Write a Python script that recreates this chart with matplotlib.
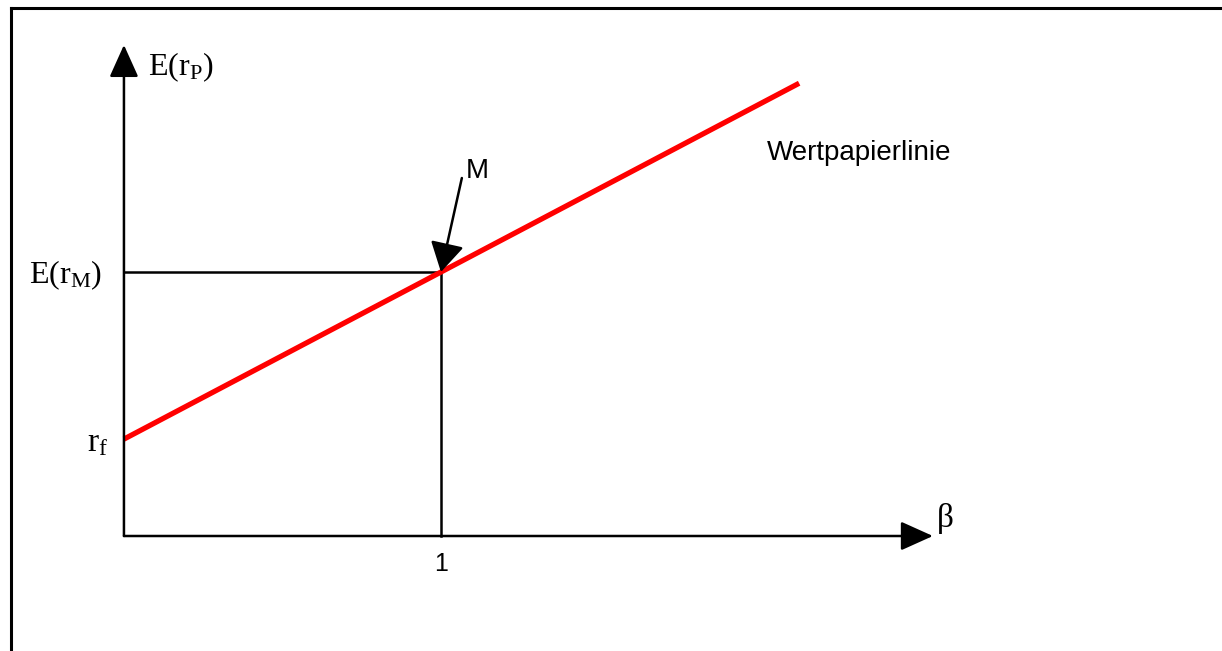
import matplotlib.pyplot as plt
from matplotlib.lines import Line2D

# security market line (beta, expected return)
sml_beta = [0.0, 2.13]
sml_return = [0.367, 1.715]

beta_m = 1.0
ret_m = 1.0
rf = 0.367

x_axis_end = 2.552
y_axis_end = 1.86

plt.rcParams['mathtext.fontset'] = 'custom'
plt.rcParams['mathtext.rm'] = 'Liberation Serif'
plt.rcParams['mathtext.it'] = 'Liberation Serif'

fig = plt.figure(figsize=(12.22, 6.51), dpi=100)
ax = fig.add_axes([0, 0, 1, 1])
ax.set_xlim(-0.391, 3.464)
ax.set_ylim(-0.4356, 2.0303)
ax.axis('off')

# frame around the drawing (cut off at right and bottom)
fig.add_artist(Line2D([11 / 1222, 11 / 1222], [0, 1 - 7.5 / 651],
                      transform=fig.transFigure, color='black', lw=2.2))
fig.add_artist(Line2D([11 / 1222, 1], [1 - 7.5 / 651, 1 - 7.5 / 651],
                      transform=fig.transFigure, color='black', lw=2.2))

# axes with arrows
axis_arrow = dict(arrowstyle='-|>,head_length=1.0,head_width=0.45',
                  mutation_scale=20, color='black', lw=1.8,
                  shrinkA=0, shrinkB=0)
ax.annotate('', xy=(0, y_axis_end), xytext=(0, 0), arrowprops=axis_arrow)
ax.annotate('', xy=(x_axis_end, 0), xytext=(0, 0), arrowprops=axis_arrow)

# guide lines to the market portfolio
ax.plot([0, beta_m], [ret_m, ret_m], color='black', lw=1.8)
ax.plot([beta_m, beta_m], [0, ret_m], color='black', lw=1.8)

# security market line
ax.plot(sml_beta, sml_return, color='#ff0000', lw=3.8, solid_capstyle='butt')

# arrow to M
ax.annotate('', xy=(beta_m, ret_m), xytext=(1.066, 1.356),
            arrowprops=dict(arrowstyle='-|>,head_length=0.95,head_width=0.55',
                            mutation_scale=19, color='black', lw=1.8,
                            shrinkA=0, shrinkB=0))

serif = 'Liberation Serif'
sans = 'Liberation Sans'

ax.text(0.0757, 1.746, r'$\mathrm{E(r_P)}$', fontsize=23, family=serif,
        ha='left', va='baseline')
ax.text(-0.0694, 0.958, r'$\mathrm{E(r_M)}$', fontsize=23, family=serif,
        ha='right', va='baseline')
ax.text(-0.050, 0.322, r'$\mathrm{r_f}$', fontsize=24, family=serif,
        ha='right', va='baseline')
ax.text(2.565, 0.068, 'β', fontsize=24, family=serif,
        ha='left', va='center')

ax.text(beta_m, -0.1326, '1', fontsize=18, family=sans,
        ha='center', va='baseline')
ax.text(1.079, 1.356, 'M', fontsize=20, family=sans,
        ha='left', va='baseline')
ax.text(2.028, 1.424, 'Wertpapierlinie', fontsize=20, family=sans,
        ha='left', va='baseline')

fig.savefig('out.png', dpi=100)
